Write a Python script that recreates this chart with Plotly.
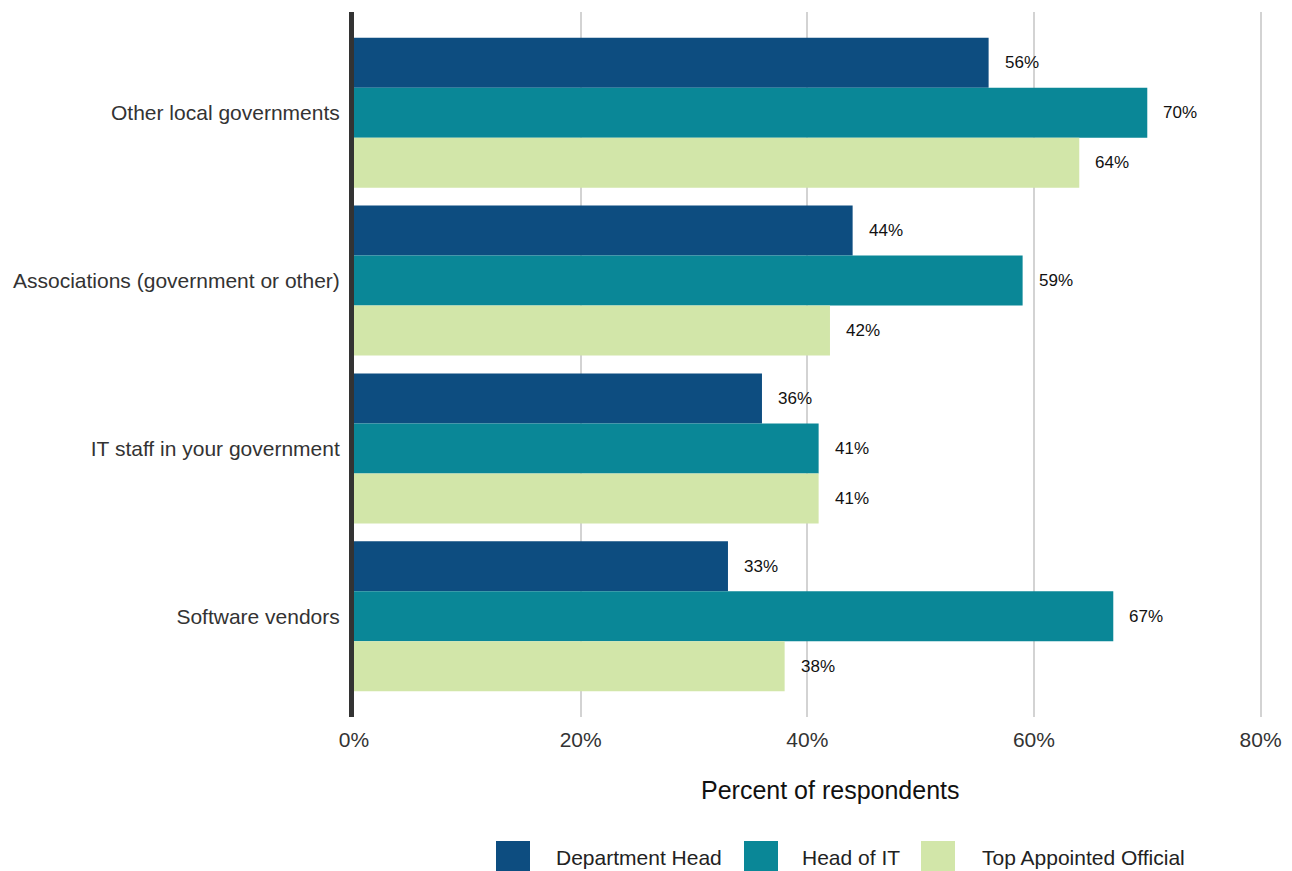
import plotly.graph_objects as go

# Survey data: share of respondents citing each information source
categories = [
    "Other local governments",
    "Associations (government or other)",
    "IT staff in your government",
    "Software vendors",
]
series_names = ["Department Head", "Head of IT", "Top Appointed Official"]
dept_head = [56, 44, 36, 33]
head_of_it = [70, 59, 41, 67]
top_official = [64, 42, 41, 38]
x_ticks = [0, 20, 40, 60, 80]
x_tick_labels = ["0%", "20%", "40%", "60%", "80%"]

colors = ["#0d4d80", "#0a8797", "#d2e6a9"]
FONT = "Liberation Sans, Arial, sans-serif"

W, H = 1292, 871
M_L, M_R, M_T, M_B = 354, 28, 12, 154

fig = go.Figure()
all_series = [dept_head, head_of_it, top_official]
for name, vals, col in zip(series_names, all_series, colors):
    fig.add_trace(go.Bar(
        y=categories, x=vals, name=name, orientation="h",
        marker=dict(color=col, line=dict(width=0)),
        showlegend=False,
    ))

# value labels to the right of each bar
bar_px = 50
shifts = [bar_px, 0, -bar_px]
for vals, ys in zip(all_series, shifts):
    for cat, v in zip(categories, vals):
        fig.add_annotation(
            x=v, y=cat, text=f"{v}%", showarrow=False,
            xanchor="left", yanchor="middle", xshift=14, yshift=ys,
            font=dict(family=FONT, size=17, color="#111111"),
        )

plot_w = W - M_L - M_R
plot_h = H - M_T - M_B
def px_x(p):
    return (p - M_L) / plot_w
def px_y(p):
    return (H - M_B - p) / plot_h

# axis title
fig.add_annotation(
    x=px_x(830), y=px_y(790), xref="paper", yref="paper",
    text="Percent of respondents", showarrow=False,
    xanchor="center", yanchor="middle",
    font=dict(family=FONT, size=25, color="#111111"),
)

# legend drawn as boxes and labels below the chart
legend_boxes = [496, 744, 921]
legend_text_x = [554, 800, 980]
for name, col, bx, tx in zip(series_names, colors, legend_boxes, legend_text_x):
    fig.add_shape(
        type="rect", xref="paper", yref="paper",
        x0=px_x(bx), x1=px_x(bx + 34), y0=px_y(871), y1=px_y(841),
        fillcolor=col, line=dict(width=0),
    )
    fig.add_annotation(
        x=px_x(tx), y=px_y(857), xref="paper", yref="paper",
        text=name, showarrow=False, xanchor="left", yanchor="middle",
        font=dict(family=FONT, size=21, color="#222222"),
    )

fig.update_layout(
    width=W, height=H,
    margin=dict(l=M_L, r=M_R, t=M_T, b=M_B),
    barmode="group", bargap=0.107, bargroupgap=0,
    plot_bgcolor="white", paper_bgcolor="white",
    font=dict(family=FONT, size=21, color="#333333"),
    xaxis=dict(
        range=[0, 80.3], tickvals=x_ticks, ticktext=x_tick_labels,
        showgrid=True, gridcolor="#d3d3d3", gridwidth=2,
        zeroline=False, showline=False, ticks="",
        automargin=False, ticklabelstandoff=8,
        tickfont=dict(family=FONT, size=21, color="#333333"),
    ),
    yaxis=dict(
        categoryorder="array", categoryarray=categories,
        range=[3.6, -0.6],
        showline=True, linewidth=5, linecolor="#333333",
        showgrid=False, zeroline=False, ticks="",
        automargin=False, ticklabelstandoff=5,
        tickfont=dict(family=FONT, size=21, color="#333333"),
    ),
)

fig.write_html("out.html")
